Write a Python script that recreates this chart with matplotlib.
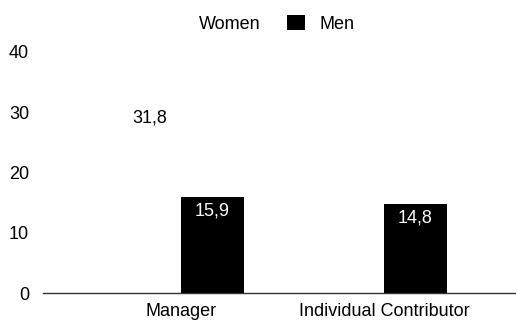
import matplotlib.pyplot as plt
import numpy as np

categories = ['Manager', 'Individual Contributor']
women = [31.8, np.nan]
men = [15.9, 14.8]
series_names = ['Women', 'Men']

plt.rcParams['font.family'] = ['Liberation Sans', 'DejaVu Sans']

fig = plt.figure(figsize=(5.16, 3.2), dpi=100)
ax = fig.add_axes([43 / 516, 1 - 293 / 320, 1 - 43 / 516, (293 - 52) / 320])

x = np.arange(len(categories))
w = 0.31
b_women = ax.bar(x - w / 2, women, w, color='white', label=series_names[0])
b_men = ax.bar(x + w / 2, men, w, color='black', label=series_names[1])

# value labels inside bar tops
for rect, v in zip(b_women, women):
    if not np.isnan(v):
        ax.text(rect.get_x() + rect.get_width() / 2, v - 1.4, f'{v:.1f}'.replace('.', ','),
                ha='center', va='top', fontsize=13, color='black')
for rect, v in zip(b_men, men):
    ax.text(rect.get_x() + rect.get_width() / 2, v - 0.9, f'{v:.1f}'.replace('.', ','),
            ha='center', va='top', fontsize=13, color='white')

ax.set_xlim(-0.68, 1.65)
ax.set_ylim(0, 40)
ax.set_yticks([0, 10, 20, 30, 40])
ax.set_xticks(x)
ax.set_xticklabels(categories, fontsize=13)
ax.tick_params(axis='y', length=0, labelsize=13, pad=10)
ax.tick_params(axis='x', length=0, pad=7)
for s in ['top', 'right', 'left']:
    ax.spines[s].set_visible(False)
ax.spines['bottom'].set_color('#333333')
ax.spines['bottom'].set_linewidth(1)

fig.legend(loc='upper center', bbox_to_anchor=(0.505, 1.005), ncol=2, frameon=False,
           fontsize=13, handlelength=0.95, handleheight=0.95, columnspacing=1.5,
           handletextpad=0.8)

fig.savefig('out.png', dpi=100)
